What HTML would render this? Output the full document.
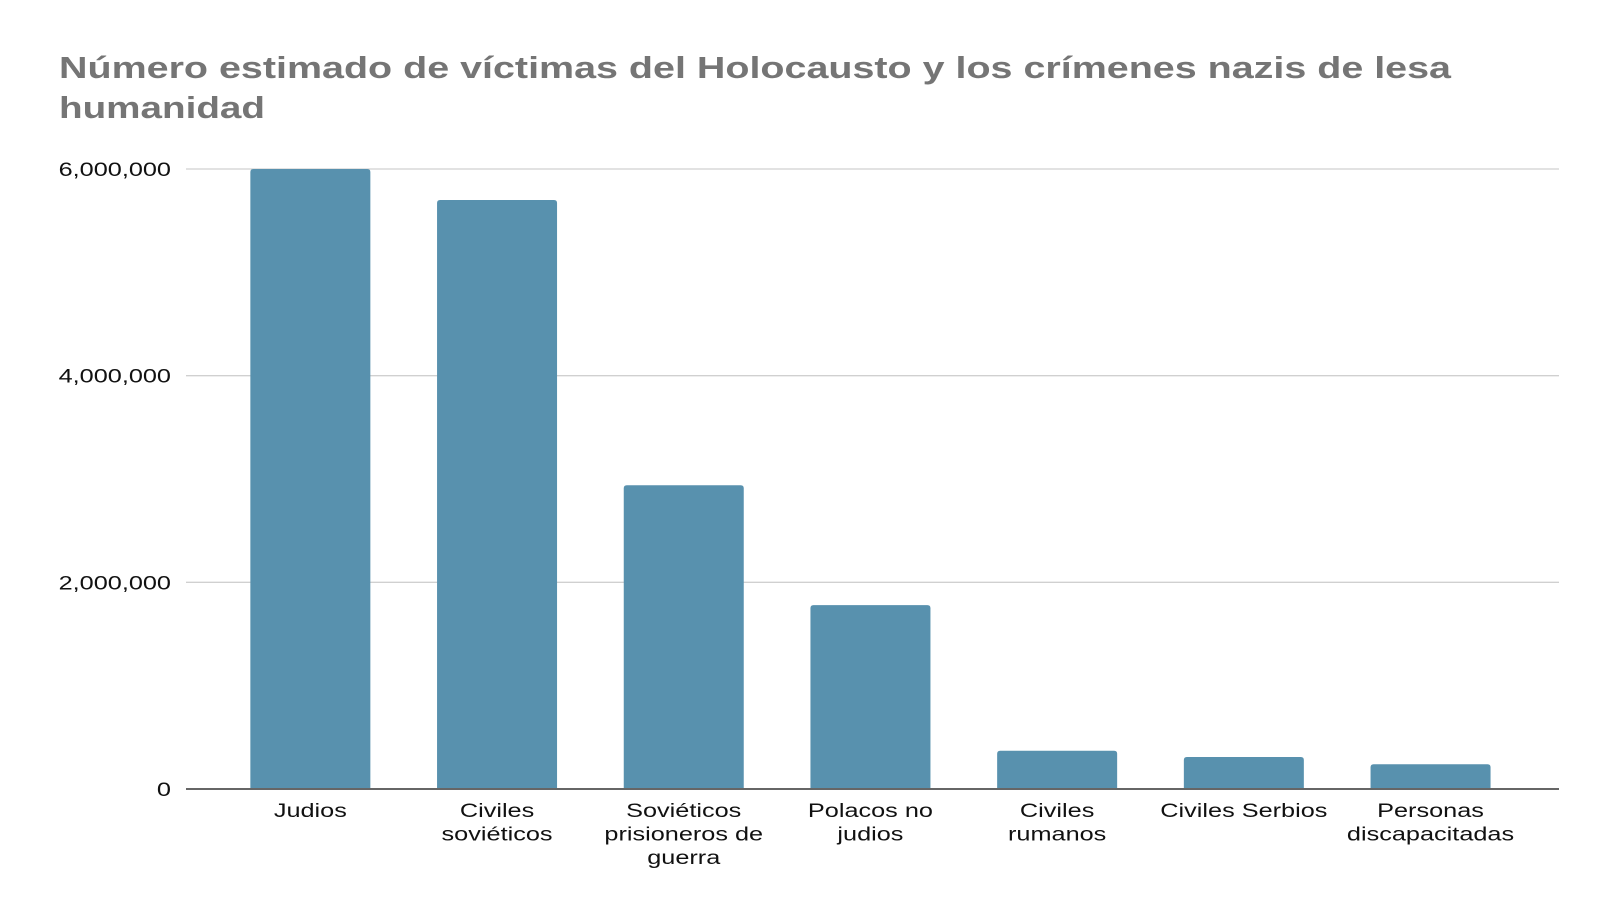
<!DOCTYPE html>
<html><head><meta charset="utf-8"><style>
html,body{margin:0;padding:0;background:#fff;}
svg{display:block;font-family:"Liberation Sans",Arial,sans-serif;}
</style></head><body>
<svg id="chart" width="1600" height="900">
<text x="59" y="78" font-size="31" font-weight="bold" fill="#757575" textLength="1392" lengthAdjust="spacingAndGlyphs">Número estimado de víctimas del Holocausto y los crímenes nazis de lesa</text>
<text x="59" y="118" font-size="31" font-weight="bold" fill="#757575" textLength="206" lengthAdjust="spacingAndGlyphs">humanidad</text>
<g id="grid"></g><g id="bars"></g><g id="labels"></g>
</svg>
<script>
const categories=[["Judios"],["Civiles","soviéticos"],["Soviéticos","prisioneros de","guerra"],["Polacos no","judios"],["Civiles","rumanos"],["Civiles Serbios"],["Personas","discapacitadas"]];
const values=[6000000,5700000,2940000,1780000,370000,310000,240000];
const ticks=[0,2000000,4000000,6000000];
const tickLabels=["0","2,000,000","4,000,000","6,000,000"];
const NS="http://www.w3.org/2000/svg";
const y0=789,yTop=169,vmax=6000000,xL=186,xR=1559,bx0=217,band=186.7,bw=120;
const y=v=>y0-(v/vmax)*(y0-yTop);
const x=i=>bx0+band*i+band/2;
const widen=1.33;
function mk(t,a,p){const e=document.createElementNS(NS,t);for(const k in a)e.setAttribute(k,a[k]);p.appendChild(e);return e;}
function stretch(e){const w=e.getComputedTextLength();e.setAttribute('textLength',(w*widen).toFixed(1));e.setAttribute('lengthAdjust','spacingAndGlyphs');}
const g=document.getElementById('grid'),b=document.getElementById('bars'),l=document.getElementById('labels');
ticks.forEach((t,i)=>{
 if(t>0){const ln=mk('line',{x1:xL,x2:xR,y1:y(t),y2:y(t),stroke:'#d0d0d0','stroke-width':1.3},g);
 
 }
 const tx=mk('text',{x:171,y:y(t)+7,'text-anchor':'end','font-size':19,fill:'#111'},g);
 tx.textContent=tickLabels[i];
 
 
 stretch(tx);
});
values.forEach((v,i)=>{
 const r=mk('path',{d:`M${x(i)-bw/2},${y0} V${y(v)+3} q0,-3 3,-3 H${x(i)+bw/2-3} q3,0 3,3 V${y0} Z`,fill:'#5891ae'},b);
 
 
 categories[i].forEach((s,j)=>{
  const tx=mk('text',{x:x(i),y:817+j*23.5,'text-anchor':'middle','font-size':19,fill:'#111'},l);
  tx.textContent=s;
  
  
  stretch(tx);
 });
});
const ax=mk('line',{x1:xL,x2:xR,y1:y0,y2:y0,stroke:'#666','stroke-width':2},l);


</script>
</body></html>
